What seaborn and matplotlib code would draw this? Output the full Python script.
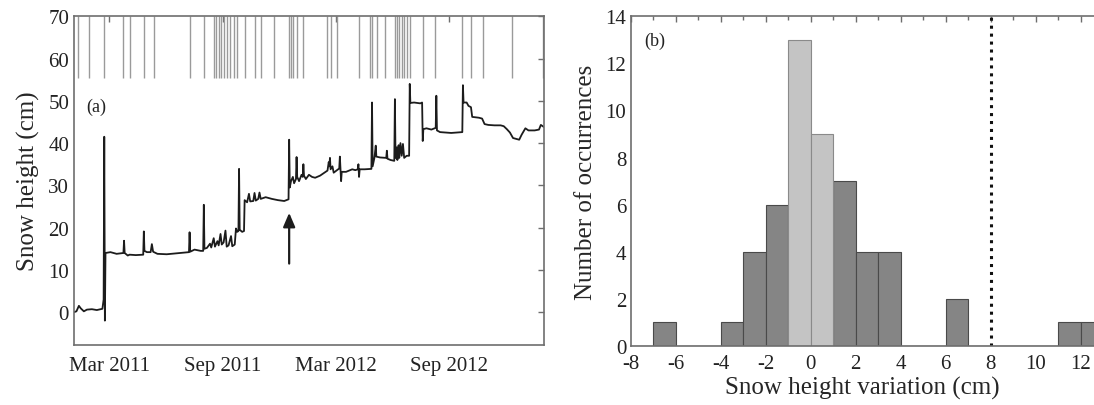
import numpy as np
import pandas as pd
import matplotlib
matplotlib.use("Agg")
import matplotlib.pyplot as plt
import matplotlib.dates as mdates
from matplotlib.ticker import MultipleLocator
import seaborn as sns

# ---------------- data ----------------
snow_dates = [
    "2011-01-03", "2011-01-07", "2011-01-11", "2011-01-14", "2011-01-19", "2011-01-24",
    "2011-02-01", "2011-02-09", "2011-02-18", "2011-02-20", "2011-02-21", "2011-02-22",
    "2011-02-23", "2011-03-03", "2011-03-13", "2011-03-24", "2011-03-25", "2011-03-26",
    "2011-03-31", "2011-04-03", "2011-04-13", "2011-04-25", "2011-04-26", "2011-04-27",
    "2011-05-01", "2011-05-07", "2011-05-09", "2011-05-11", "2011-05-18", "2011-06-02",
    "2011-06-17", "2011-07-02", "2011-07-08", "2011-07-09", "2011-07-10", "2011-07-17",
    "2011-07-27", "2011-07-31", "2011-08-01", "2011-08-02", "2011-08-06", "2011-08-11",
    "2011-08-13", "2011-08-17", "2011-08-19", "2011-08-23", "2011-08-25", "2011-08-28",
    "2011-08-30", "2011-09-02", "2011-09-05", "2011-09-07", "2011-09-10", "2011-09-14",
    "2011-09-16", "2011-09-20", "2011-09-22", "2011-09-24", "2011-09-26", "2011-09-27",
    "2011-09-28", "2011-10-02", "2011-10-05", "2011-10-06", "2011-10-10", "2011-10-13",
    "2011-10-15", "2011-10-20", "2011-10-22", "2011-10-24", "2011-10-28", "2011-10-30",
    "2011-11-01", "2011-11-09", "2011-11-19", "2011-11-29", "2011-12-09", "2011-12-16",
    "2011-12-17", "2011-12-18", "2011-12-20", "2011-12-23", "2011-12-25", "2011-12-28",
    "2011-12-29", "2011-12-30", "2012-01-02", "2012-01-06", "2012-01-08", "2012-01-09",
    "2012-01-10", "2012-01-13", "2012-01-18", "2012-01-23", "2012-01-28", "2012-02-05",
    "2012-02-12", "2012-02-17", "2012-02-19", "2012-02-20", "2012-02-21", "2012-02-22",
    "2012-02-25", "2012-02-27", "2012-03-07", "2012-03-08", "2012-03-10", "2012-03-11",
    "2012-03-18", "2012-03-23", "2012-03-28", "2012-04-02", "2012-04-06", "2012-04-07",
    "2012-04-08", "2012-04-09", "2012-04-17", "2012-04-28", "2012-04-29", "2012-04-30",
    "2012-05-03", "2012-05-05", "2012-05-06", "2012-05-12", "2012-05-22", "2012-05-23",
    "2012-05-24", "2012-05-29", "2012-06-04", "2012-06-05", "2012-06-06", "2012-06-08",
    "2012-06-09", "2012-06-11", "2012-06-12", "2012-06-14", "2012-06-16", "2012-06-18",
    "2012-06-20", "2012-06-24", "2012-06-28", "2012-06-29", "2012-06-30", "2012-07-06",
    "2012-07-16", "2012-07-19", "2012-07-20", "2012-07-21", "2012-07-26", "2012-08-03",
    "2012-08-10", "2012-08-11", "2012-08-12", "2012-08-17", "2012-08-25", "2012-09-04",
    "2012-09-14", "2012-09-22", "2012-09-23", "2012-09-24", "2012-09-29", "2012-10-02",
    "2012-10-06", "2012-10-08", "2012-10-19", "2012-10-24", "2012-10-28", "2012-11-03",
    "2012-11-13", "2012-11-23", "2012-11-28", "2012-12-03", "2012-12-08", "2012-12-13",
    "2012-12-18", "2012-12-23", "2012-12-27", "2013-01-02", "2013-01-07", "2013-01-17",
    "2013-01-24", "2013-01-27", "2013-02-01",
]
snow_height = [
    0.0, 0.2, 1.5, 0.9, 0.2, 0.6,
    0.7, 0.5, 0.8, 3.0, 41.5, -2.0,
    14.0, 14.2, 13.8, 14.0, 16.9, 14.0,
    13.4, 13.6, 13.5, 13.6, 19.1, 14.5,
    14.2, 14.2, 16.1, 14.3, 13.8, 13.7,
    13.9, 14.1, 14.2, 18.9, 14.3, 14.8,
    14.5, 14.5, 25.4, 15.0, 15.2, 16.2,
    15.3, 17.5, 15.5, 16.8, 15.8, 18.5,
    16.0, 16.5, 19.3, 15.5, 15.8, 18.0,
    15.6, 16.0, 19.8, 19.0, 19.2, 33.9,
    19.5, 19.0, 19.2, 26.5, 26.0, 28.0,
    26.2, 26.3, 28.2, 26.4, 26.8, 28.3,
    26.8, 27.2, 26.8, 26.5, 26.3, 26.7,
    40.8, 29.5, 31.0, 32.0, 30.5, 31.5,
    36.7, 32.0, 31.0, 32.5, 32.0, 35.0,
    32.3, 31.5, 32.5, 32.0, 31.8, 32.3,
    33.0, 33.5, 35.5, 34.5, 36.5, 33.8,
    34.5, 33.0, 34.0, 36.8, 31.0, 33.2,
    33.2, 33.5, 33.8, 33.6, 33.8, 35.0,
    32.0, 33.8, 33.8, 33.9, 49.6, 34.5,
    36.6, 39.4, 36.8, 36.6, 36.5, 38.2,
    36.3, 36.0, 35.8, 50.4, 36.5, 39.0,
    36.0, 39.5, 36.5, 40.0, 37.0, 39.8,
    36.5, 37.0, 37.0, 54.0, 49.5, 49.6,
    49.4, 49.6, 40.5, 43.3, 43.5, 43.2,
    43.6, 51.2, 43.0, 42.6, 42.5, 42.4,
    42.5, 42.6, 53.7, 49.6, 49.6, 48.8,
    48.5, 46.2, 46.0, 45.8, 44.5, 44.3,
    44.2, 44.2, 44.0, 43.3, 42.5, 41.2,
    41.0, 40.8, 42.0, 43.5, 43.0, 43.0,
    43.2, 44.3, 43.8,
]
event_dates = [
    "2011-01-09", "2011-01-28", "2011-02-20", "2011-03-24", "2011-04-04", "2011-04-27",
    "2011-05-12", "2011-07-09", "2011-08-02", "2011-08-17", "2011-08-21", "2011-08-25",
    "2011-08-29", "2011-09-03", "2011-09-07", "2011-09-13", "2011-09-19", "2011-09-23",
    "2011-10-06", "2011-10-22", "2011-11-01", "2011-11-23", "2011-12-16", "2011-12-20",
    "2011-12-24", "2011-12-29", "2012-01-09", "2012-02-16", "2012-02-22", "2012-03-04",
    "2012-04-08", "2012-04-25", "2012-04-29", "2012-05-07", "2012-05-20", "2012-06-05",
    "2012-06-09", "2012-06-12", "2012-06-16", "2012-06-20", "2012-06-25", "2012-06-30",
    "2012-07-20", "2012-08-09", "2012-09-22", "2012-10-06", "2012-10-25", "2012-12-12",
    "2013-01-30",
]
event_band = [55.5, 70.0]
arrow_date = "2011-12-17"
arrow_span = [11.5, 23.5]

bin_left_dark = [-7, -4, -3, -2, 1, 2, 3, 6, 11, 12]
count_dark = [1, 1, 4, 6, 7, 4, 4, 2, 1, 1]
bin_left_light = [-1, 0]
count_light = [13, 9]
threshold = 8

date_ticks = ["2011-03-01", "2011-09-01", "2012-03-01", "2012-09-01"]
date_range = ["2011-01-03", "2013-02-01"]

# ---------------- style ----------------
sns.set_theme(style="white")
plt.rcParams["font.family"] = ["Liberation Serif", "DejaVu Serif"]
plt.rcParams["axes.unicode_minus"] = False
plt.rcParams["mathtext.default"] = "regular"

spine_col = "#6e6e6e"
tick_fs = 15
label_fs = 18

fig = plt.figure(figsize=(10.94, 4.06), dpi=100)
axA = fig.add_axes([0.0676, 0.1485, 0.4296, 0.8089])
axB = fig.add_axes([0.5768, 0.146, 0.4232, 0.8113])

# ---------------- panel (a) ----------------
dfA = pd.DataFrame({"date": pd.to_datetime(snow_dates), "height": snow_height})
sns.lineplot(data=dfA, x="date", y="height", ax=axA, color="#1c1c1c",
             linewidth=1.3, estimator=None, sort=False)
ev = pd.to_datetime(event_dates)
axA.vlines(ev, event_band[0], event_band[1], color="#9a9a9a", linewidth=1.0, zorder=1)
ad = pd.to_datetime(arrow_date)
axA.annotate("", xy=(ad, arrow_span[1]), xytext=(ad, arrow_span[0]),
             arrowprops=dict(arrowstyle="-|>,head_length=0.7,head_width=0.3",
                             color="#1c1c1c", lw=1.6, shrinkA=0, shrinkB=0))
axA.set_xlim(pd.to_datetime(date_range[0]), pd.to_datetime(date_range[1]))
axA.set_ylim(-7.7, 70)
axA.set_xticks(pd.to_datetime(date_ticks))
axA.xaxis.set_major_formatter(mdates.DateFormatter("%b %Y"))
axA.set_yticks(np.arange(0, 71, 10))
axA.set_xlabel("")
axA.set_ylabel("Snow height (cm)", fontsize=label_fs, labelpad=6)
axA.text(0.026, 0.727, "(a)", transform=axA.transAxes, fontsize=13,
         ha="left", va="center", color="#222222")
axA.tick_params(axis="both", which="both", direction="in", top=True, right=True,
                length=4, width=1, color=spine_col, labelsize=tick_fs, labelcolor="#222222")
axA.tick_params(axis="x", pad=8)
for s in axA.spines.values():
    s.set_color(spine_col)
    s.set_linewidth(1.2)

# ---------------- panel (b) ----------------
dfDark = pd.DataFrame({"center": [b + 0.5 for b in bin_left_dark], "count": count_dark})
dfLight = pd.DataFrame({"center": [b + 0.5 for b in bin_left_light], "count": count_light})
sns.histplot(data=dfDark, x="center", weights="count", binwidth=1, binrange=(-8, 14),
             ax=axB, color="#858585", edgecolor="#4a4a4a", linewidth=0.8, alpha=1.0)
sns.histplot(data=dfLight, x="center", weights="count", binwidth=1, binrange=(-8, 14),
             ax=axB, color="#c4c4c4", edgecolor="#8a8a8a", linewidth=0.8, alpha=1.0)
axB.axvline(threshold, color="#111111", linestyle=(0, (1, 1.6)), linewidth=2.2)
axB.set_xlim(-8, 12.6)
axB.set_ylim(0, 14)
axB.xaxis.set_major_locator(MultipleLocator(2))
axB.xaxis.set_minor_locator(MultipleLocator(1))
axB.yaxis.set_major_locator(MultipleLocator(2))
axB.set_xlabel("Snow height variation (cm)", fontsize=label_fs, labelpad=2)
axB.set_ylabel("Number of occurrences", fontsize=label_fs, labelpad=6)
axB.text(-7.4, 12.96, "(b)", fontsize=13, ha="left", va="center", color="#222222")
axB.tick_params(axis="both", which="both", direction="in", top=True, right=False,
                color=spine_col, labelsize=tick_fs, labelcolor="#222222")
axB.tick_params(axis="both", which="major", length=4, width=1)
axB.tick_params(axis="both", which="minor", length=3, width=1)
axB.tick_params(axis="x", pad=6)
for k, s in axB.spines.items():
    s.set_color(spine_col)
    s.set_linewidth(1.2)
axB.spines["right"].set_visible(False)

fig.savefig("out.png", dpi=100)
